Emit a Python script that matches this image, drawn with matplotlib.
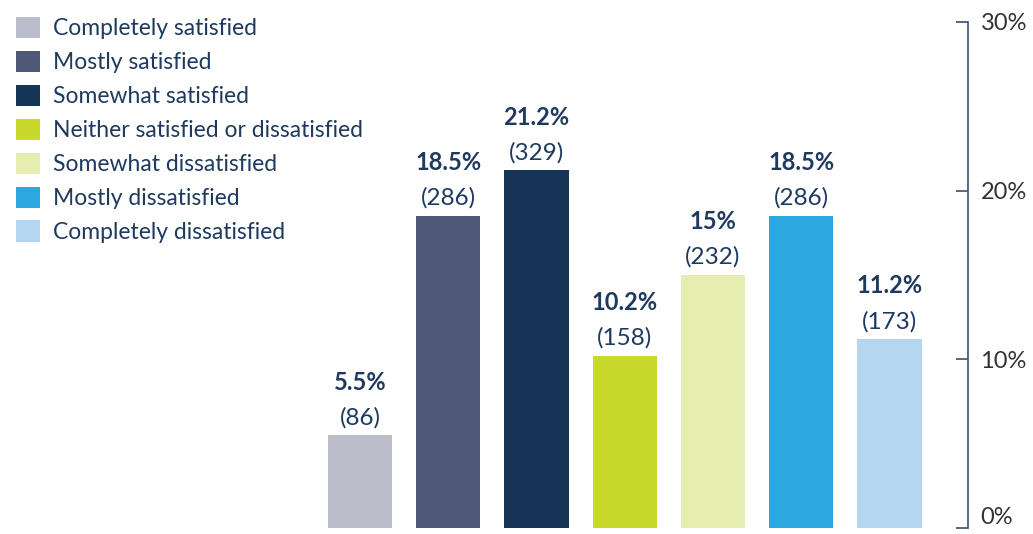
import numpy as np
import matplotlib.pyplot as plt
from matplotlib.patches import Patch

categories = ["Completely satisfied", "Mostly satisfied", "Somewhat satisfied",
              "Neither satisfied or dissatisfied", "Somewhat dissatisfied",
              "Mostly dissatisfied", "Completely dissatisfied"]
percents = [5.5, 18.5, 21.2, 10.2, 15, 18.5, 11.2]
counts = [86, 286, 329, 158, 232, 286, 173]
pct_labels = ["5.5%", "18.5%", "21.2%", "10.2%", "15%", "18.5%", "11.2%"]
colors = ["#bcbdca", "#4f5877", "#163456", "#c8d92b", "#e6edb0", "#2ba8e0", "#b4d6f0"]

text_col = "#1f3a5f"
axis_col = "#4a5a78"

plt.rcParams['font.family'] = ['Lato', 'DejaVu Sans']

W, H = 1033, 534
fig = plt.figure(figsize=(W / 100, H / 100), dpi=100)
ax = fig.add_axes([0, 6 / H, 968 / W, (528 - 22) / H])

x = np.arange(len(categories))
ax.bar(x, percents, width=0.73, color=colors)
ax.set_xlim(-4.08, 6.89)
ax.set_ylim(0, 30)

# etiquetas acima das barras: percentual em negrito e contagem
for xi, p, c, pl in zip(x, percents, counts, pct_labels):
    ax.annotate(f"({c})", (xi, p), xytext=(0, 5), textcoords="offset points",
                ha="center", va="bottom", fontsize=17.5, color=text_col)
    ax.annotate(pl, (xi, p), xytext=(0, 30), textcoords="offset points",
                ha="center", va="bottom", fontsize=17, color=text_col, fontweight="bold")

for s in ["top", "left", "bottom"]:
    ax.spines[s].set_visible(False)
ax.spines["right"].set_color(axis_col)
ax.spines["right"].set_linewidth(1.3)
ax.yaxis.tick_right()
ax.set_yticks([0, 10, 20, 30])
ax.set_yticklabels(["0%", "10%", "20%", "30%"])
ax.tick_params(axis="y", direction="in", length=9, width=1.3, color=axis_col,
               labelsize=17, labelcolor="#333333", pad=9)
ax.get_yticklabels()[0].set_va("bottom")
ax.set_xticks([])

handles = [Patch(facecolor=c, edgecolor="none") for c in colors]
fig.legend(handles, categories, loc="upper left", bbox_to_anchor=(16 / W, 1 - 17 / H),
           frameon=False, fontsize=16.5, handlelength=1.05, handleheight=1.05,
           labelspacing=0.5, handletextpad=0.55, borderpad=0, borderaxespad=0,
           labelcolor=text_col)

fig.savefig("out.png", dpi=100)
